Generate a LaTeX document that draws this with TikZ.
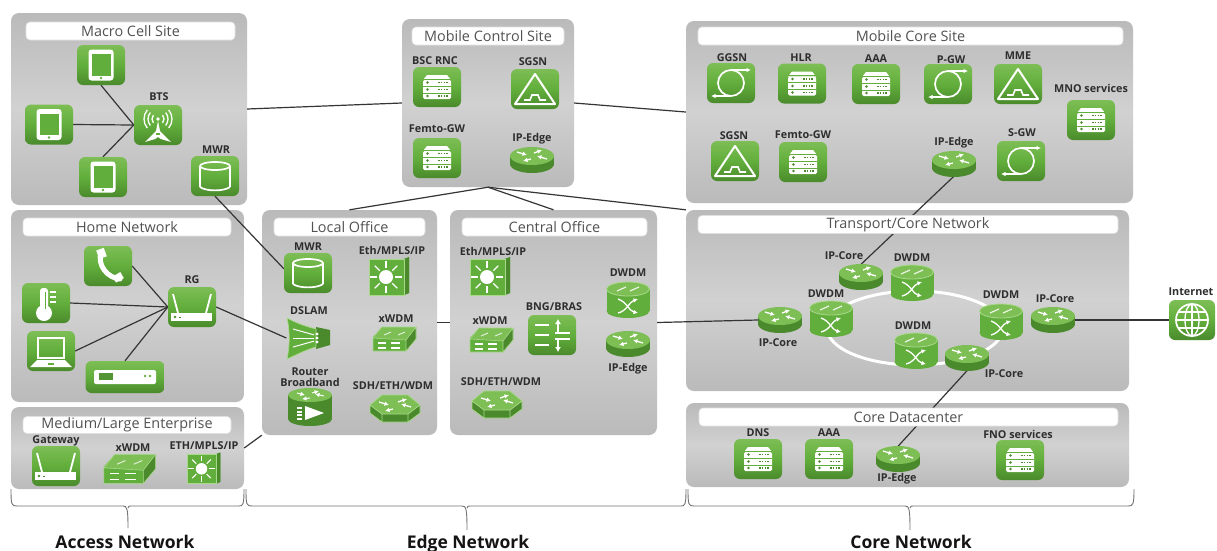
\documentclass[tikz,border=0pt]{standalone}
\usepackage{fontspec}
\setmainfont{Open Sans}
\usetikzlibrary{arrows.meta,shapes.geometric}
\definecolor{tg}{HTML}{62AE3C}
\definecolor{tgl}{HTML}{7DBE55}
\definecolor{tgd}{HTML}{4A8A2C}
\definecolor{tgf}{HTML}{A8D98A}
\definecolor{cn}{HTML}{353535}
\pgfdeclarelayer{panels}\pgfdeclarelayer{conn}\pgfsetlayers{panels,conn,main}
\tikzset{
  panel/.style={rectangle,rounded corners=8pt,inner sep=0pt,draw=none,top color=BDP,bottom color=BDP,middle color=MDP},
  bar/.style={rectangle,rounded corners=4pt,inner sep=0pt,fill=white,draw=black!12,line width=.6pt,text=black!68,font=\fontsize{14.4}{16}\selectfont},
  tile/.style={rectangle,rounded corners=6pt,inner sep=0pt,minimum width=48pt,minimum height=40pt,top color=tgl,bottom color=tgd,middle color=tg},
  slot/.style={rectangle,inner sep=0pt,draw=none},
  lbl/.style={inner sep=0pt,text=black!82,font=\bfseries\fontsize{10.8}{11.5}\selectfont,align=center},
  zone/.style={inner sep=0pt,anchor=base,text=black!92,font=\bfseries\fontsize{17.5}{19}\selectfont},
  link/.style={draw=cn,line width=1.2pt},
  ringline/.style={draw=white,line width=3pt},
  brace/.style={draw=black!55,line width=.9pt},
  wl/.style={draw=white,line width=1.7pt},
  ar/.style={draw=white,line width=1.3pt,-{Latex[length=4.5pt,width=4.5pt]}},
  pics/tablet/.style={code={
    \fill[white,rounded corners=3pt] (-12.5,-15.5) rectangle (12.5,15.5);
    \fill[tg] (-9.5,-11) rectangle (9.5,10.5);
    \fill[tg] (0,13) circle (1.3pt);}},
  pics/tower/.style={code={
    \fill[white] (0,-6) circle (1.8pt);
    \foreach \r in {6,10,14}{
      \draw[wl,line width=1.3pt] (0,-6) ++(140:\r pt) arc[start angle=140,end angle=220,radius=\r pt];
      \draw[wl,line width=1.3pt] (0,-6) ++(40:\r pt) arc[start angle=40,end angle=-40,radius=\r pt];}
    \fill[white] (0,-4) -- (2,6) -- (13,17) -- (3,14) -- (0,12) -- (-3,14) -- (-13,17) -- (-2,6) -- cycle;
    \fill[tg] (-2,8) rectangle (2,10);}},
  pics/drum/.style={code={
    \draw[wl] (-15,-10) -- (-15,11) (15,-10) -- (15,11);
    \draw[wl] (0,-10) ellipse [x radius=15pt,y radius=4pt];
    \draw[wl] (-15,11) .. controls (-9,15.5) and (9,15.5) .. (15,11);}},
  pics/handset/.style={code={
    \draw[white,line width=5pt,line cap=round] (-7,-14) .. controls (-11,0) and (0,12) .. (12,13);
    \fill[white,rotate around={20:(-7,-14)}] (-11,-17) rectangle (-3,-8);
    \fill[white,rotate around={30:(10,12)}] (6,8) rectangle (15,15);}},
  pics/thermo/.style={code={
    \fill[white] (-2,10) circle (8pt);
    \fill[white,rounded corners=3pt] (-6,-15) rectangle (2,8);
    \fill[tg] (-3.5,-11) rectangle (-.5,6);
    \fill[white] (-3,-11) rectangle (-1,8);
    \foreach \y in {-12,-7,-2}{\fill[white] (4,\y) rectangle (10,\y+2);}}},
  pics/laptop/.style={code={
    \draw[wl] (-13,-13) rectangle (13,7);
    \fill[white] (-14,9) -- (14,9) -- (21,16) -- (-21,16) -- cycle;
    \fill[tg] (-3,12) rectangle (3,14);}},
  pics/stb/.style={code={
    \fill[white,rounded corners=2pt] (-31,-7) rectangle (31,7);
    \fill[tg!85!black] (-26,-4) rectangle (-12,3);
    \fill[tg] (20,-1) circle (1.3pt) (25,-1) circle (1.3pt);}},
  pics/rgw/.style={code={
    \fill[white] (-21,6) rectangle (20,14);
    \draw[white,line width=1.8pt] (-14,6) -- (-19,-13) (14,6) -- (19,-13);
    \fill[tgd] (-17,10) circle (1.3pt);
    \fill[tgd] (-13,9.5) rectangle (-11,10.5);}},
  pics/srv/.style={code={
    \fill[white] (-10,-12) -- (10,-12) -- (14,-7) -- (-14,-7) -- cycle;
    \fill[white,rounded corners=1.5pt] (-14,-7) rectangle (14,12);
    \draw[tg,line width=.8pt] (-14,-8) -- (14,-8) (-14,-1) -- (14,-1) (-14,6) -- (14,6);
    \foreach \y in {-4.5,2.5,9}{
      \fill[tgd] (-9.5,\y) circle (1.3pt);
      \draw[tgd,line width=1.2pt,dash pattern=on 1.6pt off 1.2pt] (1,\y) -- (11,\y);}}},
  pics/tri/.style={code={
    \draw[white,line width=2pt,line join=round] (0,-15) -- (20,15) -- (-20,15) -- cycle;
    \draw[white,line width=1.6pt] (-11,11) -- (-5,11) -- (-3,6) -- (3,6) -- (5,11) -- (11,11);}},
  pics/loopy/.style={code={
    \draw[wl] (0,0) ellipse [x radius=13pt,y radius=13pt];
    \draw[ar] (1,-13) -- (20,-13);
    \draw[ar] (-1,13) -- (-20,13);}},
  pics/globe/.style={code={
    \draw[wl] (0,0) circle (16pt);
    \draw[wl,line width=1.3pt] (0,0) ellipse [x radius=7pt,y radius=16pt];
    \draw[wl,line width=1.3pt] (0,-16) -- (0,16) (-16,0) -- (16,0) (-14,-8) -- (14,-8) (-14,8) -- (14,8);}},
  pics/bng/.style={code={
    \draw[white,line width=2.4pt] (-17,-10) -- (-3,-10) (-17,0) -- (-3,0) (-17,10) -- (-3,10);
    \draw[white,line width=2.4pt] (3,-2) -- (18,-2) (3,4) -- (18,4);
    \draw[white,line width=2.2pt,-{Latex[length=5pt,width=6pt]}] (6,-2) -- (6,-16);
    \draw[white,line width=2.2pt,-{Latex[length=5pt,width=6pt]}] (6,4) -- (6,17);}},
  pics/router/.style={code={
    \fill[tgd] (-22,-4) rectangle (22,4);
    \fill[tgd] (0,4) ellipse [x radius=22pt,y radius=9pt];
    \fill[tgl] (0,-4) ellipse [x radius=22pt,y radius=9pt];
    \draw[ar] (-15,-8) -- (-5,-5);
    \draw[ar] (-1,-1) -- (-9,1);
    \draw[ar] (15,-1) -- (5,-4);
    \draw[ar] (2,-7) -- (10,-10);}},
  pics/dwdm/.style={code={
    \fill[tg] (-21.5,-11) rectangle (21.5,11);
    \fill[tg] (0,11) ellipse [x radius=21.5pt,y radius=7pt];
    \fill[tgl] (0,-11) ellipse [x radius=21.5pt,y radius=7pt];
    \draw[tgf,line width=.8pt] (0,-11) ellipse [x radius=21.5pt,y radius=7pt];
    \draw[white!85!tg,line width=1.2pt] (-11,-9) -- (-2,-13) (2,-9) -- (11,-13);
    \draw[ar] (-10,-1) .. controls (-1,2) and (1,11) .. (10,13);
    \draw[ar] (-10,13) .. controls (-1,11) and (1,2) .. (10,-1);}},
  pics/swch/.style={code={
    \fill[tg] (-20,-17) -- (15,-17) -- (20,-19) -- (20,17) -- (15,19) -- (-20,19) -- cycle;
    \fill[tgd] (15,-17) -- (20,-19) -- (20,17) -- (15,19) -- cycle;
    \draw[tgf,line width=.7pt] (-20,-17) rectangle (15,19);
    \fill[white] (-3,1) circle (7pt);
    \foreach \a in {0,45,...,315}{\draw[white,line width=1.1pt] (-3,1) ++(\a:9pt) -- ++(\a:7pt);}}},
  pics/xw/.style={code={
    \fill[tg] (-21,-2) -- (-12,-12) -- (22,-12) -- (22,0) -- (12,12) -- (-21,12) -- cycle;
    \fill[tgd] (12,1) -- (22,-12) -- (22,0) -- (12,12) -- cycle;
    \fill[tgl] (-21,-1) -- (-12,-12) -- (22,-12) -- (12,1) -- cycle;
    \draw[tgf,line width=.6pt] (-21,-1) -- (-12,-12) -- (22,-12) -- (12,1) -- cycle (-21,-1) -- (-21,12) -- (12,12) -- (12,1) (12,12) -- (22,0) -- (22,-12);
    \draw[white,line width=1.3pt] (-16,4) -- (-8,4) (-3,4) -- (6,4) (-16,9) -- (-8,9) (-3,9) -- (6,9);
    \draw[white!80!tg,line width=1pt] (-10,-4) -- (-3,-7) (4,-4) -- (11,-7);}},
  pics/sdh/.style={code={
    \fill[tgd] (-25,-3) -- (-25,5) -- (-13,14) -- (13,14) -- (25,5) -- (25,-3) -- cycle;
    \fill[tgl] (-25,-3) -- (-13,-13) -- (13,-13) -- (25,-3) -- (13,6) -- (-13,6) -- cycle;
    \draw[tgf,line width=.7pt] (-25,-3) -- (-13,-13) -- (13,-13) -- (25,-3) -- (25,5) -- (13,14) -- (-13,14) -- (-25,5) -- cycle (-25,-3) -- (-13,6) -- (13,6) -- (25,-3) (-13,6) -- (-13,14) (13,6) -- (13,14);
    \draw[ar] (-16,-6) -- (-6,-3);
    \draw[ar] (-2,1) -- (-10,3);
    \draw[ar] (16,-1) -- (6,-4);
    \draw[ar] (3,-6) -- (12,-9);}},
  pics/dsl/.style={code={
    \fill[tg] (-21,-20) .. controls (-10,-14) and (0,-11) .. (8,-9) -- (8,9) .. controls (0,11) and (-10,16) .. (-21,21) .. controls (-18,8) and (-18,-8) .. (-21,-20) -- cycle;
    \fill[tgd] (8,-11) -- (22,-8) -- (22,7) -- (8,11) -- cycle;
    \draw[tgf,line width=.7pt] (-21,-20) .. controls (-10,-14) and (0,-11) .. (8,-9) -- (8,9) .. controls (0,11) and (-10,16) .. (-21,21) .. controls (-18,8) and (-18,-8) .. (-21,-20) -- cycle;
    \foreach \y in {-9,0,9}{\draw[white,line width=1pt] (-15,\y) -- (6,\y*.35);}
    \foreach \y in {-4,0,4}{\fill[white] (9,\y) circle (1.6pt);}}},
  pics/brb/.style={code={
    \fill[tgd] (-22,-12) rectangle (22,12);
    \fill[tgd] (0,12) ellipse [x radius=22pt,y radius=7pt];
    \fill[tgl] (0,-12) ellipse [x radius=22pt,y radius=7pt];
    \draw[ar,line width=1pt] (-13,-14) -- (-5,-12);
    \draw[ar,line width=1pt] (14,-11) -- (5,-13);
    \draw[ar,line width=1pt] (0,-9) -- (-8,-8);
    \draw[ar,line width=1pt] (2,-14) -- (9,-16);
    \foreach \y in {0,3.5,7,10.5}{\fill[white] (-13,\y) rectangle (-8,\y+2);}
    \fill[white] (-5,-1) -- (14,6) -- (-5,13) -- cycle;}},
}
\colorlet{BDP}{black!27}
\colorlet{MDP}{black!18}
\newcommand{\tl}[3]{\node[tile] (#1) at (#2) {}; \pic at (#2) {#3};}
\newcommand{\dv}[5]{\node[slot,minimum width=#4pt,minimum height=#5pt] (#1) at (#2) {}; \pic at (#2) {#3};}
\newcommand{\dvs}[6]{\node[slot,minimum width=#4pt,minimum height=#5pt] (#1) at (#2) {}; \pic[scale=#6] at (#2) {#3};}
\newcommand{\bracepath}[5]{\draw[brace] (#1,#3) .. controls (#1,#4) and (#1+.5,#4+1) .. (#1+6,#4+1) -- (#2-5,#4+1) .. controls (#2-1,#4+1) and (#2,#4+3) .. (#2,#5) (#2,#4+3) .. controls (#2,#4+1) and (#2+1,#4+1) .. (#2+5,#4+1);}
\begin{document}
\begin{tikzpicture}[x=1pt,y=-1pt]
\begin{pgfonlayer}{panels}
\fill[white] (0,0) rectangle (1217,550);
\end{pgfonlayer}
\useasboundingbox (0,0) rectangle (1217,550);
\begin{pgfonlayer}{panels}
\node[panel,minimum width=236pt,minimum height=192pt] (macro) at (129,109) {};
\node[panel,minimum width=233pt,minimum height=192pt] (home) at (127.5,306) {};
\node[panel,minimum width=233pt,minimum height=82pt] (ent) at (127.5,448) {};
\node[panel,minimum width=175pt,minimum height=225pt] (local) at (349.5,322.5) {};
\node[panel,minimum width=207pt,minimum height=225pt] (central) at (553.5,322.5) {};
\node[panel,minimum width=172pt,minimum height=168pt] (control) at (488,103) {};
\node[panel,minimum width=447pt,minimum height=182pt] (mcore) at (909.5,112) {};
\node[panel,minimum width=443pt,minimum height=181pt] (transport) at (907.5,300.5) {};
\node[panel,minimum width=443pt,minimum height=84pt] (dc) at (907.5,445) {};
\end{pgfonlayer}
% title bars
\node[bar,minimum width=209pt,minimum height=18pt] (tmacro) at (130.5,31) {Macro Cell Site};
\node[bar,minimum width=208pt,minimum height=18pt] (thome) at (127,227) {Home Network};
\node[bar,minimum width=208pt,minimum height=17pt] (tent) at (127,425) {Medium/Large Enterprise};
\node[bar,minimum width=151pt,minimum height=18pt] (tlocal) at (349.5,227) {Local Office};
\node[bar,minimum width=185pt,minimum height=18pt] (tcentral) at (554.5,227) {Central Office};
\node[bar,minimum width=152pt,minimum height=18pt] (tcontrol) at (488,36) {Mobile Control Site};
\node[bar,minimum width=425pt,minimum height=18pt] (tmcore) at (910.5,36) {Mobile Core Site};
\node[bar,minimum width=420pt,minimum height=18pt] (ttransport) at (908,224.5) {Transport/Core Network};
\node[bar,minimum width=419pt,minimum height=18pt] (tdc) at (908.5,417) {Core Datacenter};
% devices
\tl{pa}{101,65}{tablet}\tl{pb}{49,124.5}{tablet}\tl{pc}{103,177}{tablet}\tl{bts}{158,125}{tower}\tl{mwra}{215,176}{drum}
\tl{hph}{108,266}{handset}\tl{hth}{46,303}{thermo}\tl{hlp}{51,351}{laptop}
\node[tile,minimum width=79pt,minimum height=32pt] (hst) at (125,377) {};\pic at (125,377) {stb};
\tl{rg}{192,307}{rgw}
\tl{gw}{56,466}{rgw}\dvs{exw}{129,469}{xw}{53}{29}{1.2}\dvs{esw}{204,468}{swch}{34}{31}{.82}
\tl{lmwr}{308,273}{drum}\dv{lsw}{389,276}{swch}{41}{38}\dv{dslam}{308,338}{dsl}{43}{43}\dv{lxw}{394,339}{xw}{43}{25}\dv{lbr}{310,407}{brb}{44}{39}\dv{lsd}{395,408}{sdh}{50}{28}
\dv{csw}{490,276}{swch}{41}{38}\dv{cxw}{491,340}{xw}{44}{26}\tl{bng}{552,335}{bng}\dv{csd}{497,404}{sdh}{50}{28}\dv{cdw}{628,300}{dwdm}{43}{36}\dv{cip}{628,344}{router}{45}{26}
\tl{bsc}{437,87}{srv}\tl{csg}{535,89}{tri}\tl{cfm}{437,158}{srv}\dv{cie}{532,160}{router}{44}{26}
\tl{ggsn}{731,83}{loopy}\tl{hlr}{802,83.5}{srv}\tl{maaa}{876,84}{srv}\tl{pgw}{948,84}{loopy}\tl{mme}{1018,84}{tri}\tl{mno}{1091,120}{srv}
\tl{msg}{735,161}{tri}\tl{mfm}{803,162}{srv}\dv{mie}{954,164}{router}{44}{24}\tl{sgw}{1021,161}{loopy}
\dv{ipt}{861,277}{router}{44}{25}\dv{dwt}{912,283}{dwdm}{43}{36}\dv{dwl}{831,319}{dwdm}{44}{36}\dv{ipl}{780,320}{router}{44}{25}
\dv{dwb}{916,351}{dwdm}{43}{35}\dv{dwr}{1001,322}{dwdm}{43}{37}\dv{ipr}{1053,320}{router}{43}{25}\dv{ipb}{967,358}{router}{43}{25}
\node[tile,minimum width=46pt] (inet) at (1192,320) {};\pic at (1192,320) {globe};
\tl{dns}{758,459}{srv}\tl{daaa}{829,459}{srv}\dv{die}{898,459}{router}{43}{25}\tl{fno}{1020,460}{srv}
% labels
\node[lbl] (l01) at (159,97) {BTS};
\node[lbl] (l02) at (216,150) {MWR};
\node[lbl] (l03) at (192,280) {RG};
\node[lbl] (l04) at (56,441) {Gateway};
\node[lbl] (l05) at (133,448) {xWDM};
\node[lbl] (l06) at (204,446) {ETH/MPLS/IP};
\node[lbl] (l07) at (308,247) {MWR};
\node[lbl] (l08) at (392,250) {Eth/MPLS/IP};
\node[lbl] (l09) at (309,311) {DSLAM};
\node[lbl] (l10) at (396,319) {xWDM};
\node[lbl] (l11) at (310,377) {Router\\[-1pt]Broadband};
\node[lbl] (l12) at (393,386) {SDH/ETH/WDM};
\node[lbl] (l13) at (493,251) {Eth/MPLS/IP};
\node[lbl] (l14) at (490,321) {xWDM};
\node[lbl] (l15) at (554,307) {BNG/BRAS};
\node[lbl] (l16) at (501,382) {SDH/ETH/WDM};
\node[lbl] (l17) at (628,273) {DWDM};
\node[lbl] (l18) at (628,369) {IP-Edge};
\node[lbl] (l19) at (435,61) {BSC RNC};
\node[lbl] (l20) at (533,62) {SGSN};
\node[lbl] (l21) at (437,129) {Femto-GW};
\node[lbl] (l22) at (532,139) {IP-Edge};
\node[lbl] (l23) at (732,58) {GGSN};
\node[lbl] (l24) at (801,58) {HLR};
\node[lbl] (l25) at (876,59) {AAA};
\node[lbl] (l26) at (951,60) {P-GW};
\node[lbl] (l27) at (1018,56) {MME};
\node[lbl] (l28) at (1091,88) {MNO services};
\node[lbl] (l29) at (734,136) {SGSN};
\node[lbl] (l30) at (803,135) {Femto-GW};
\node[lbl] (l31) at (954,143) {IP-Edge};
\node[lbl] (l32) at (1022,133) {S-GW};
\node[lbl] (l33) at (844,256) {IP-Core};
\node[lbl] (l34) at (912,258) {DWDM};
\node[lbl] (l35) at (826,294) {DWDM};
\node[lbl] (l36) at (1001,295) {DWDM};
\node[lbl] (l37) at (1055,299) {IP-Core};
\node[lbl] (l38) at (778,343) {IP-Core};
\node[lbl] (l39) at (913,326) {DWDM};
\node[lbl] (l40) at (1004,374) {IP-Core};
\node[lbl] (l41) at (1191,292) {Internet};
\node[lbl] (l42) at (758,433) {DNS};
\node[lbl] (l43) at (829,433) {AAA};
\node[lbl] (l44) at (897,479) {IP-Edge};
\node[lbl] (l45) at (1018,434) {FNO services};
\node[zone] (zacc) at (125,548) {Access Network};
\node[zone] (zedg) at (468,548) {Edge Network};
\node[zone] (zcor) at (911,548) {Core Network};
% connectors
\begin{pgfonlayer}{conn}
\draw[link] (pa.south) -- (bts.west);
\draw[link] (pb.east) -- (bts.west);
\draw[link] (pc.north) -- (bts.west);
\draw[link] (mwra.south) -- (lmwr.170);
\draw[link] (macro.east) -- (control.west);
\draw[link] (control.east) -- (mcore.west);
\draw[link] (control.south) -- (local.north);
\draw[link] (control.south) -- (central.north);
\draw[link] (control.south) -- (transport.north west);
\draw[link] (local.east) -- (central.west);
\draw[link] (central.east) -- (ipl.west);
\draw[link] (hph.east) -- (rg.west);
\draw[link] (hth.east) -- (rg.west);
\draw[link] (hlp.east) -- (rg.west);
\draw[link] (hst.north) -- (rg.west);
\draw[link] (rg.east) -- (dslam.west);
\draw[link] (ent.east) -- (local.south west);
\draw[link] (mie.south) -- (ipt.north);
\draw[link] (ipb.south) -- (die.north);
\draw[link] (ipr.east) -- (inet.west);
\draw[ringline] (915,328) ellipse [x radius=88pt,y radius=37pt];
\end{pgfonlayer}
% braces
\bracepath{11}{128}{489}{505}{528}
\draw[brace] (133,506) -- (239,506) .. controls (243,506) and (244,505) .. (244,489);
\bracepath{246}{467}{489}{505}{530}
\draw[brace] (472,506) -- (681,506) .. controls (685,506) and (686,505) .. (686,489);
\bracepath{688}{910}{489}{505}{530}
\draw[brace] (915,506) -- (1128,506) .. controls (1133,506) and (1134,505) .. (1134,489);
\end{tikzpicture}
\end{document}
